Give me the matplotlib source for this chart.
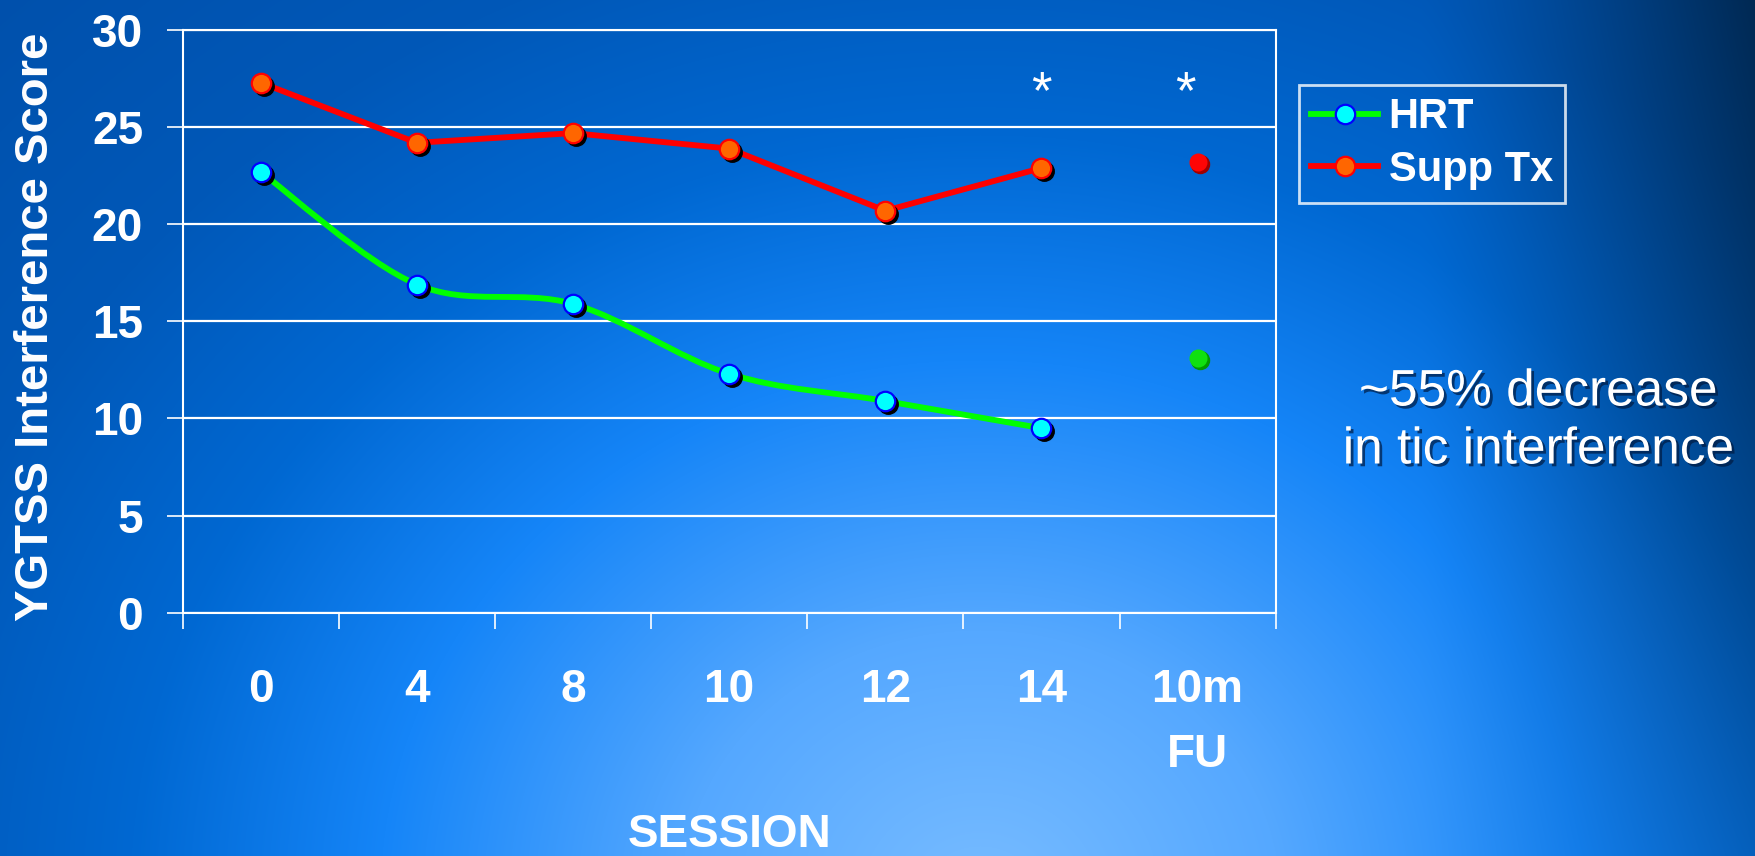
import numpy as np
import matplotlib
matplotlib.use("Agg")
import matplotlib.pyplot as plt
from matplotlib.path import Path
from matplotlib.patches import PathPatch
from matplotlib.lines import Line2D
import matplotlib.transforms as mtransforms
import matplotlib.patheffects as pe

plt.rcParams["font.family"] = ["Liberation Sans", "DejaVu Sans"]

# ---- data ----
sessions = ["0", "4", "8", "10", "12", "14", "10m\nFU"]
hrt = [22.7, 16.9, 15.9, 12.3, 10.9, 9.5]
supp = [27.3, 24.2, 24.7, 23.9, 20.7, 22.9]
hrt_fu = 13.1
supp_fu = 23.2
yticks = [0, 5, 10, 15, 20, 25, 30]

W, H, DPI = 1756, 856, 100
fig = plt.figure(figsize=(W / DPI, H / DPI), dpi=DPI)

# ---- slide background: radial blue glow, darker towards the right edge ----
bg = fig.add_axes([0, 0, 1, 1], zorder=-10)
bg.set_axis_off()
yy, xx = np.mgrid[0:H, 0:W].astype(float)
d = np.sqrt(((xx - 980) / 1000.0) ** 2 + ((yy - 900) / 900.0) ** 2)
stops = np.array([0.0, 0.3, 0.6, 0.85, 1.1, 1.5])
cols = np.array([
    [0x78, 0xBC, 0xFF],
    [0x55, 0xA8, 0xFF],
    [0x15, 0x85, 0xF8],
    [0x00, 0x68, 0xD2],
    [0x00, 0x58, 0xB8],
    [0x00, 0x4E, 0xA8],
]) / 255.0
img = np.stack([np.interp(d, stops, cols[:, k]) for k in range(3)], axis=-1)
r = np.clip((xx - 1420) / 336.0, 0, 1) ** 1.3
s = 0.9 * r * (0.25 + 0.75 * (1 - yy / H))
dark = np.array([0x00, 0x24, 0x48]) / 255.0
img = img * (1 - s[..., None]) + dark * s[..., None]
bg.imshow(img, aspect="auto", extent=[0, 1, 0, 1], origin="upper")
bg.set_xlim(0, 1)
bg.set_ylim(0, 1)

# ---- main axes ----
ax = fig.add_axes([182.6 / W, 1 - 612.6 / H, (1275.7 - 182.6) / W, (612.6 - 30.2) / H])
ax.set_facecolor("none")
ax.set_xlim(-0.5, 6.5)
ax.set_ylim(0, 30)

for sp in ax.spines.values():
    sp.set_color("white")
    sp.set_linewidth(1.5)

ax.set_yticks(yticks)
ax.yaxis.grid(True, color="white", linewidth=1.6)
ax.set_axisbelow(True)

ax.set_xticks(np.arange(-0.5, 7.0, 1.0))
ax.set_xticklabels([])
ax.set_xticks(np.arange(len(sessions)), minor=True)
ax.set_xticklabels(sessions, minor=True)

ax.tick_params(axis="both", which="major", direction="out", length=11.5, width=1.2,
               colors="white", labelsize=33)
ax.tick_params(axis="y", pad=17)
ax.tick_params(axis="x", which="minor", length=0, pad=40, labelsize=33, labelcolor="white")
for lab in ax.get_yticklabels() + ax.get_xticklabels(minor=True):
    lab.set_fontweight("bold")
    lab.set_linespacing(1.62)

ax.set_ylabel("YGTSS Interference Score", fontsize=34, fontweight="bold", color="white",
              va="center")
ax.yaxis.set_label_coords(-0.134, 0.49)
ax.set_xlabel("SESSION", fontsize=33, fontweight="bold", color="white", va="center")
ax.xaxis.set_label_coords(0.5, -0.382)


def smooth_path(xs, ys):
    pts = np.column_stack([xs, ys]).astype(float)
    n = len(pts)
    verts = [pts[0]]
    codes = [Path.MOVETO]
    for i in range(n - 1):
        p0 = pts[i - 1] if i > 0 else pts[i]
        p1, p2 = pts[i], pts[i + 1]
        p3 = pts[i + 2] if i + 2 < n else pts[i + 1]
        verts += [p1 + (p2 - p0) / 6.0, p2 - (p3 - p1) / 6.0, p2]
        codes += [Path.CURVE4] * 3
    return Path(verts, codes)


shadow = mtransforms.offset_copy(ax.transData, fig=fig, x=3, y=-3, units="dots")
small_shadow = mtransforms.offset_copy(ax.transData, fig=fig, x=2, y=-2, units="dots")

# HRT is drawn as a smoothed curve, Supp Tx as straight segments
series = [
    (hrt, "#00FF00", "#00FFFF", "#0000FF", True),
    (supp, "#FF0000", "#FF6600", "#FF0000", False),
]
for vals, lc, fc, ec, smooth in series:
    xs = np.arange(len(vals))
    if smooth:
        ax.add_patch(PathPatch(smooth_path(xs, vals), facecolor="none", edgecolor=lc,
                               linewidth=4.2, capstyle="round", zorder=3))
    else:
        ax.plot(xs, vals, color=lc, linewidth=4.2, solid_capstyle="round",
                solid_joinstyle="round", zorder=3)
    ax.plot(xs, vals, linestyle="none", marker="o", markersize=14, color="black",
            transform=shadow, zorder=4)
    ax.plot(xs, vals, linestyle="none", marker="o", markersize=14, markerfacecolor=fc,
            markeredgecolor=ec, markeredgewidth=1.6, zorder=5)

# follow-up points (not joined to the session lines)
fu_x = len(sessions) - 1
for val, dark_c, main_c in [(hrt_fu, "#009A00", "#10E010"), (supp_fu, "#A00000", "#FF0505")]:
    ax.plot([fu_x], [val], linestyle="none", marker="o", markersize=13, color=dark_c,
            transform=small_shadow, zorder=4)
    ax.plot([fu_x], [val], linestyle="none", marker="o", markersize=13, color=main_c,
            markeredgewidth=0, zorder=5)

# significance markers
for xpos in [5, 5.92]:
    ax.text(xpos, 26.0, "*", ha="center", va="baseline", fontsize=38, color="white")

# legend
handles = [
    Line2D([], [], color="#00FF00", lw=4.2, marker="o", markersize=14,
           markerfacecolor="#00FFFF", markeredgecolor="#0000FF", markeredgewidth=1.6),
    Line2D([], [], color="#FF0000", lw=4.2, marker="o", markersize=14,
           markerfacecolor="#FF6600", markeredgecolor="#FF0000", markeredgewidth=1.6),
]
leg = fig.legend(handles, ["HRT", "Supp Tx"], loc="upper left",
                 bbox_to_anchor=(1299 / W, 1 - 85 / H), bbox_transform=fig.transFigure,
                 borderaxespad=0, frameon=True, fancybox=False, handlelength=1.6,
                 handletextpad=0.25, borderpad=0.3, labelspacing=0.3,
                 prop={"size": 30, "weight": "bold"})
leg.get_frame().set_facecolor("none")
leg.get_frame().set_edgecolor("white")
leg.get_frame().set_linewidth(2)
for t in leg.get_texts():
    t.set_color("white")

# annotation on the right
shadow_fx = [pe.withSimplePatchShadow(offset=(2, -2), shadow_rgbFace="#001a40", alpha=0.7)]
fig.text(1538 / W, 1 - 392 / H, "~55% decrease", ha="center", va="center",
         fontsize=37, color="white", path_effects=shadow_fx)
fig.text(1538 / W, 1 - 450 / H, "in tic interference", ha="center", va="center",
         fontsize=37, color="white", path_effects=shadow_fx)

fig.savefig("out.png", dpi=DPI)
